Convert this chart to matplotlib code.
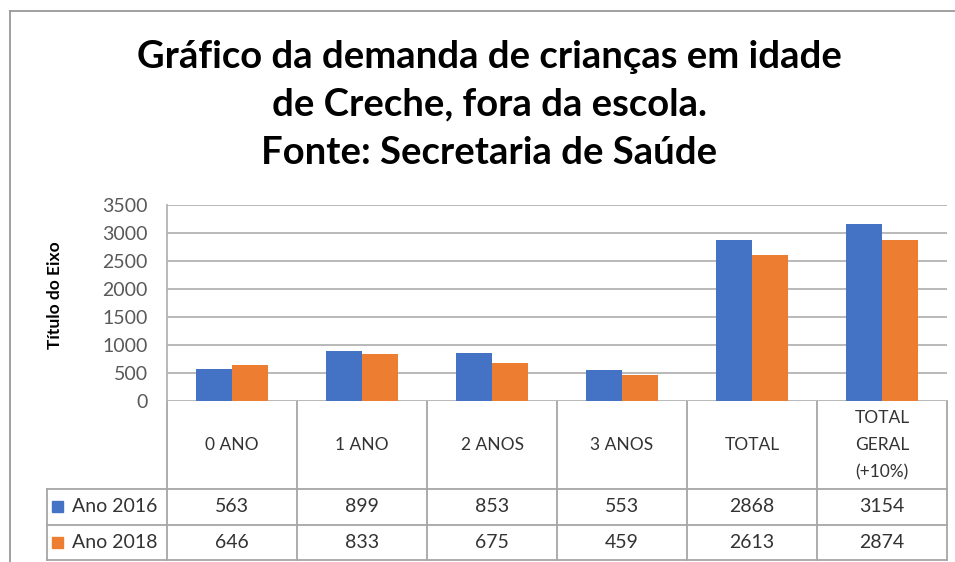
import numpy as np
import matplotlib
matplotlib.use("Agg")
import matplotlib.pyplot as plt
from matplotlib.patches import Rectangle

plt.rcParams['font.family'] = ['Lato', 'DejaVu Sans']

# data
categories = ["0 ANO", "1 ANO", "2 ANOS", "3 ANOS", "TOTAL", "TOTAL\nGERAL\n(+10%)"]
series_names = ["Ano 2016", "Ano 2018"]
ano_2016 = [563, 899, 853, 553, 2868, 3154]
ano_2018 = [646, 833, 675, 459, 2613, 2874]
y_ticks = [0, 500, 1000, 1500, 2000, 2500, 3000, 3500]

BLUE = "#4472C4"
ORANGE = "#ED7D31"
GRID = "#b3b3b3"
LINE = "#a6a6a6"
TXT = "#333333"

W, H = 955, 562
fig = plt.figure(figsize=(W / 100, H / 100), dpi=100)

def fx(px):
    return px / W

def fy(py):
    return 1 - py / H

# plot area in pixels
p_left, p_right, p_top, p_bot = 167, 947, 205, 401
ax = fig.add_axes([fx(p_left), fy(p_bot), fx(p_right) - fx(p_left), fy(p_top) - fy(p_bot)])

x = np.arange(len(categories))
bw = 0.277
ax.bar(x - bw / 2, ano_2016, bw, color=BLUE, zorder=3)
ax.bar(x + bw / 2, ano_2018, bw, color=ORANGE, zorder=3)
ax.set_xlim(-0.5, len(categories) - 0.5)
ax.set_ylim(0, 3500)
ax.set_yticks(y_ticks)
ax.set_yticklabels([str(t) for t in y_ticks], fontsize=14, color="#595959")
ax.set_xticks([])
ax.tick_params(axis="y", length=0, pad=14)
ax.yaxis.grid(True, color=GRID, linewidth=1.3, zorder=0)
for s in ["top", "right", "bottom"]:
    ax.spines[s].set_visible(False)
ax.spines["left"].set_color(GRID)
ax.spines["left"].set_linewidth(1.3)

# overlay in pixel coordinates for title, border and data table
ov = fig.add_axes([0, 0, 1, 1], zorder=-1)
ov.set_xlim(0, W)
ov.set_ylim(H, 0)
ov.axis("off")

# chart border (left and top)
ov.plot([10, 10], [11, H], color="#999999", lw=1.3)
ov.plot([10, W], [11, 11], color="#999999", lw=1.3)

# title
title_lines = ["Gráfico da demanda de crianças em idade",
               "de Creche, fora da escola.",
               "Fonte: Secretaria de Saúde"]
for line, base in zip(title_lines, [68, 115, 164]):
    ov.text(489, base, line, ha="center", va="baseline", fontsize=27.5,
            fontweight="bold", color="black")

# axis title
ov.text(55, 295, "Título do Eixo", rotation=90, ha="center", va="center",
        fontsize=12.5, fontweight="bold", color="black")

# data table
cw = (p_right - p_left) / len(categories)
col_edges = [p_left + i * cw for i in range(len(categories) + 1)]
lab_left = 47
r_head, r1, r2, r3 = 401, 489, 525, 560

for yy in [r1, r2, r3]:
    ov.plot([lab_left, p_right], [yy, yy], color=LINE, lw=1.3)
ov.plot([lab_left, lab_left], [r1, r3], color=LINE, lw=1.3)
for xe in col_edges:
    ov.plot([xe, xe], [r_head, r3], color=LINE, lw=1.3)

for i, cat in enumerate(categories):
    cx = (col_edges[i] + col_edges[i + 1]) / 2
    ov.text(cx, (r_head + r1) / 2, cat, ha="center", va="center",
            fontsize=12.5, color=TXT, linespacing=1.85)
    ov.text(cx, (r1 + r2) / 2, str(ano_2016[i]), ha="center", va="center",
            fontsize=14, color=TXT)
    ov.text(cx, (r2 + r3) / 2, str(ano_2018[i]), ha="center", va="center",
            fontsize=14, color=TXT)

for name, col, (ra, rb) in zip(series_names, [BLUE, ORANGE], [(r1, r2), (r2, r3)]):
    cy = (ra + rb) / 2
    ov.add_patch(Rectangle((52, cy - 6), 11, 11, color=col))
    ov.text(72, cy, name, ha="left", va="center", fontsize=14, color=TXT)

fig.savefig("out.png", dpi=100)
